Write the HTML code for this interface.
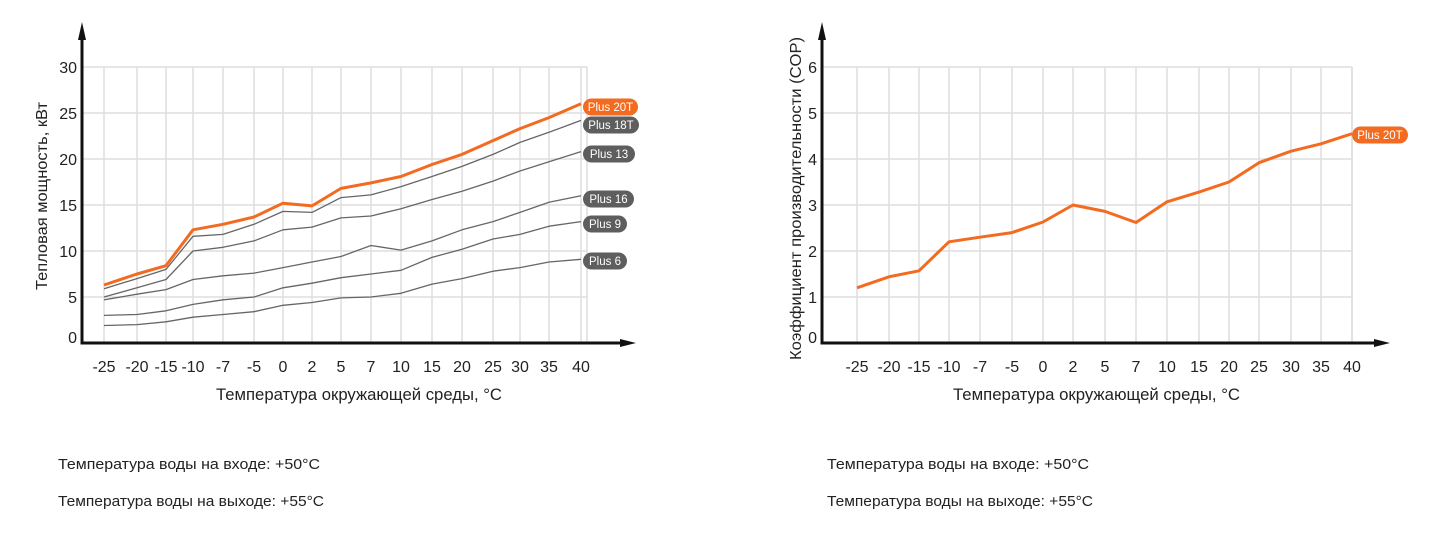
<!DOCTYPE html>
<html><head><meta charset="utf-8"><style>
html,body{margin:0;padding:0;background:#fff;width:1440px;height:535px;overflow:hidden}
svg{display:block}
text{font-family:"Liberation Sans",Arial,sans-serif;fill:#222}
</style></head><body>
<svg id="s" width="1440" height="535" xmlns="http://www.w3.org/2000/svg">
<text x="58" y="469" font-size="15" textLength="262" lengthAdjust="spacingAndGlyphs">Температура воды на входе: +50°C</text>
<text x="58" y="506" font-size="15" textLength="266" lengthAdjust="spacingAndGlyphs">Температура воды на выходе: +55°C</text>
<text x="827" y="469" font-size="15" textLength="262" lengthAdjust="spacingAndGlyphs">Температура воды на входе: +50°C</text>
<text x="827" y="506" font-size="15" textLength="266" lengthAdjust="spacingAndGlyphs">Температура воды на выходе: +55°C</text>
<text x="216" y="400" font-size="16.5" textLength="286" lengthAdjust="spacingAndGlyphs">Температура окружающей среды, °C</text>
<text x="953" y="400" font-size="16.5" textLength="287" lengthAdjust="spacingAndGlyphs">Температура окружающей среды, °C</text>
<text transform="translate(47,290) rotate(-90)" font-size="16" textLength="188" lengthAdjust="spacingAndGlyphs">Тепловая мощность, кВт</text>
<text transform="translate(801,360) rotate(-90)" font-size="16" textLength="323" lengthAdjust="spacingAndGlyphs">Коэффициент производительности (COP)</text>
</svg>
<script>
var S=document.getElementById('s'),NS='http://www.w3.org/2000/svg';
function el(t,a,txt){var e=document.createElementNS(NS,t);for(var k in a)e.setAttribute(k,a[k]);if(txt!=null)e.textContent=txt;S.appendChild(e);return e;}
var labs=['-25','-20','-15','-10','-7','-5','0','2','5','7','10','15','20','25','30','35','40'];
function chart(o){
  var X=o.xs, y0=343, top=67, L=o.ax, R=o.right;
  var py=function(v){return y0-(v/o.ymax)*(y0-top);};
  for(var v=o.step;v<=o.ymax+1e-9;v+=o.step){el('line',{x1:L,x2:R,y1:py(v),y2:py(v),stroke:'#dedede','stroke-width':1.5});}
  X.forEach(function(x){el('line',{x1:x,x2:x,y1:top,y2:y0,stroke:'#dedede','stroke-width':1.5});});
  el('line',{x1:R,x2:R,y1:top,y2:y0,stroke:'#dedede','stroke-width':1.5});
  for(var v=0;v<=o.ymax+1e-9;v+=o.step){el('text',{x:L-5,y:py(v)+(v==0?0:6),'font-size':16,'text-anchor':'end'},String(v));}
  X.forEach(function(x,i){el('text',{x:x,y:372,'font-size':16,'text-anchor':'middle'},labs[i]);});
  el('line',{x1:L,x2:L,y1:y0+1.5,y2:36,stroke:'#111','stroke-width':3});
  el('polygon',{points:(L-4)+',40 '+(L+4)+',40 '+L+',22',fill:'#111'});
  el('line',{x1:L,x2:o.arrowX-12,y1:y0,y2:y0,stroke:'#111','stroke-width':3});
  el('polygon',{points:(o.arrowX-16)+','+(y0-4)+' '+(o.arrowX-16)+','+(y0+4)+' '+o.arrowX+','+y0,fill:'#111'});
  o.series.forEach(function(s){
    var pts=s.d.map(function(v,i){return X[i]+','+py(v).toFixed(1);}).join(' ');
    el('polyline',{points:pts,fill:'none',stroke:s.c,'stroke-width':s.w,'stroke-linejoin':'round'});
    if(s.label){var w=s.pw;el('rect',{x:s.px,y:s.py-8.5,width:w,height:17,rx:8.5,fill:s.fc});
      el('text',{x:s.px+w/2,y:s.py+4,'font-size':11.5,'text-anchor':'middle',style:'fill:#fff'},s.label);}
  });
}
var G='#666',OR='#f26b21',DG='#5e5e5e';
chart({xs:[104,137,166,193,223,254,283,312,341,371,401,432,462,493,520,549,581],ax:82,right:587,arrowX:636,ymax:30,step:5,
series:[
 {d:[1.9,2.0,2.3,2.8,3.1,3.4,4.1,4.4,4.9,5.0,5.4,6.4,7.0,7.8,8.2,8.8,9.1],c:G,w:1.3,label:'Plus 6',px:583,py:261,pw:44,fc:DG},
 {d:[3.0,3.1,3.5,4.2,4.7,5.0,6.0,6.5,7.1,7.5,7.9,9.3,10.2,11.3,11.8,12.7,13.2],c:G,w:1.3,label:'Plus 9',px:583,py:224,pw:44,fc:DG},
 {d:[4.7,5.3,5.8,6.9,7.3,7.6,8.2,8.8,9.4,10.6,10.1,11.1,12.3,13.2,14.2,15.3,16.0],c:G,w:1.3,label:'Plus 16',px:583,py:199,pw:51,fc:DG},
 {d:[5.0,6.0,6.9,10.0,10.4,11.1,12.3,12.6,13.6,13.8,14.6,15.6,16.5,17.6,18.7,19.7,20.8],c:G,w:1.3,label:'Plus 13',px:583,py:154,pw:52,fc:DG},
 {d:[5.9,7.0,8.0,11.6,11.8,12.9,14.3,14.2,15.8,16.1,17.0,18.1,19.2,20.5,21.8,22.9,24.2],c:G,w:1.3,label:'Plus 18T',px:583,py:125,pw:56,fc:DG},
 {d:[6.3,7.5,8.4,12.3,12.9,13.7,15.2,14.9,16.8,17.4,18.1,19.4,20.5,22.0,23.3,24.5,26.0],c:OR,w:3,label:'Plus 20T',px:583,py:107,pw:55,fc:OR}
]});
chart({xs:[857,889,919,949,980,1012,1043,1073,1105,1136,1167,1199,1229,1259,1291,1321,1352],ax:822,right:1352,arrowX:1390,ymax:6,step:1,
series:[
 {d:[1.2,1.44,1.57,2.2,2.3,2.4,2.63,3.0,2.86,2.62,3.07,3.28,3.5,3.92,4.17,4.33,4.55],c:OR,w:3,label:'Plus 20T',px:1352,py:135,pw:56,fc:OR}
]});
</script>
</body></html>
